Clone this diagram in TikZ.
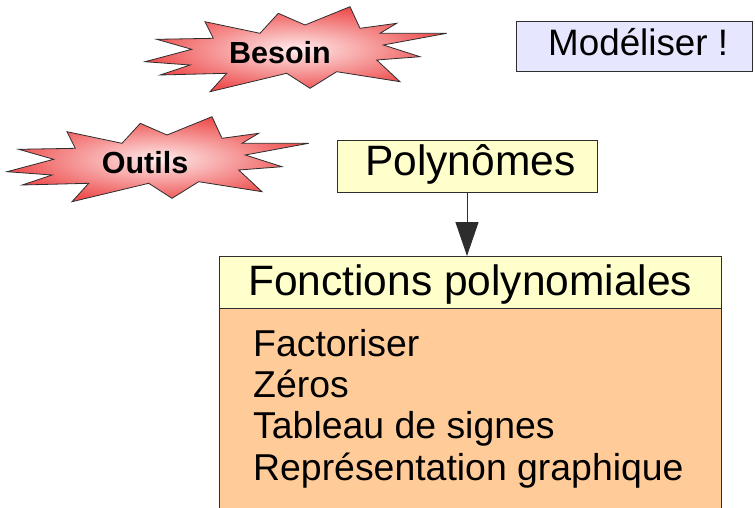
\documentclass[tikz,border=0pt]{standalone}
\usepackage{fontspec}
\setmainfont{Liberation Sans}
\usetikzlibrary{arrows.meta}
\definecolor{boxyellow}{RGB}{255,255,204}
\definecolor{boxlav}{RGB}{230,230,255}
\definecolor{boxorange}{RGB}{255,204,153}
\definecolor{starred}{RGB}{238,80,80}
\definecolor{starpale}{RGB}{255,236,236}
\definecolor{edgecol}{RGB}{45,45,45}
\def\starpath{(145,61.7) -- (191.7,49.3) -- (156.7,39.3) -- (213.3,38.3) -- (205,21.7) -- (260,33.3) -- (278.3,13.3) -- (305,25) -- (350,6.7) -- (360,28.3) -- (396.7,23.3) -- (380,33.3) -- (446.7,33.3) -- (383.3,45) -- (420,56.7) -- (376.7,60) -- (400,81.7) -- (336.7,71.7) -- (310,88.3) -- (286.7,73.3) -- (210,91.7) -- (226.7,73.3) -- (160,75) -- (190,65) -- cycle}
\begin{document}
\begin{tikzpicture}[x=1pt,y=-1pt,
  box/.style={draw=edgecol,line width=1pt,inner sep=0pt,outer sep=0pt,anchor=north west},
  txt/.style={inner sep=0pt,anchor=base west,text=black},
  bigtxt/.style={txt,font=\fontsize{42.5}{50}\selectfont},
  itemtxt/.style={txt,font=\fontsize{37.4}{44}\selectfont},
  startxt/.style={inner sep=0pt,anchor=base,font=\fontsize{30.5}{36}\selectfont\bfseries},
  starshape/.style={draw=edgecol,line width=0.8pt,shading=radial,inner color=starpale,outer color=starred},
  link/.style={draw=edgecol,line width=1pt,-{Triangle[width=23pt,length=34pt]}}]
\useasboundingbox (0,0) rectangle (755,507);
% stars
\path[starshape] \starpath;
\node[startxt] (besoin) at (280,63) {Besoin};
\begin{scope}[shift={(-138,110)}]
\path[starshape] \starpath;
\end{scope}
\node[startxt] (outils) at (145,173.3) {Outils};
% Modeliser
\node[box,fill=boxlav,minimum width=236pt,minimum height=50pt] (model) at (516,21) {};
\node[txt,font=\fontsize{36.8}{44}\selectfont] (modeltxt) at (548,55) {Modéliser !};
% Polynomes
\node[box,fill=boxyellow,minimum width=260pt,minimum height=52pt] (poly) at (337,140) {};
\node[bigtxt] (polytxt) at (365,175) {Polynômes};
% Fonctions
\node[box,fill=boxorange,minimum width=502pt,minimum height=210pt] (body) at (219.5,308) {};
\node[box,fill=boxyellow,minimum width=502pt,minimum height=52pt] (title) at (219.5,256) {};
\node[bigtxt] (titletxt) at (248,295) {Fonctions polynomiales};
\node[itemtxt] (i1) at (253,356) {Factoriser};
\node[itemtxt] (i2) at (253,397.5) {Zéros};
\node[itemtxt] (i3) at (253,438.5) {Tableau de signes};
\node[itemtxt] (i4) at (253,480) {Représentation graphique};
% arrow
\draw[link] (poly.south) -- (poly.south |- title.north);
\end{tikzpicture}
\end{document}
